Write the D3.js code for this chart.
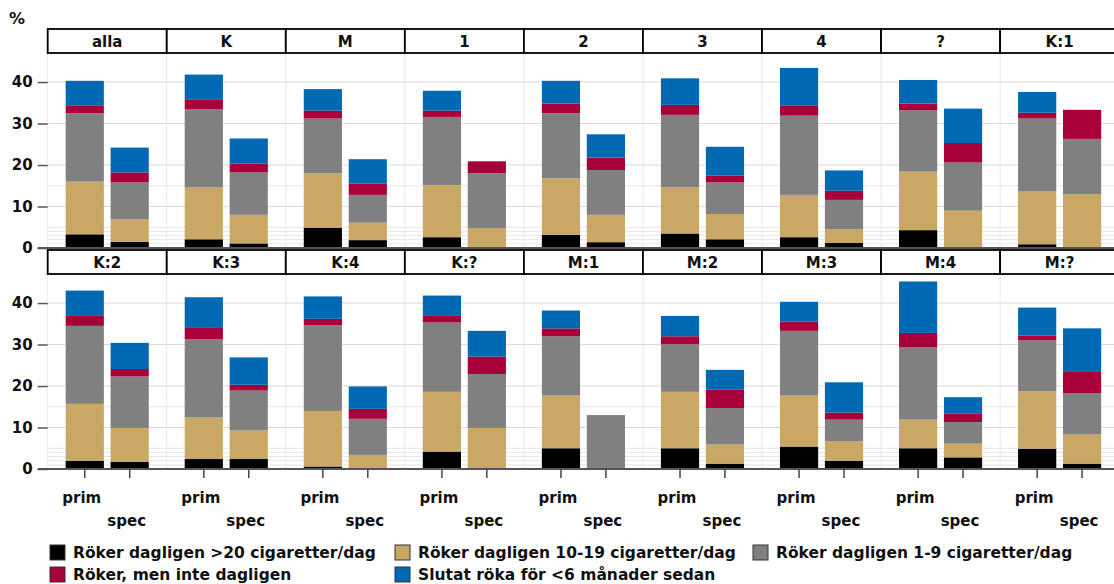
<!DOCTYPE html>
<html>
<head>
<meta charset="utf-8">
<script src="https://cdn.jsdelivr.net/npm/d3@7"></script>
<style>
  body { margin: 0; background: #fff; overflow: hidden; }
  text { font-family: "DejaVu Sans", sans-serif; font-weight: bold; fill: #111; }
</style>
</head>
<body>
<script>
// panels in the order they appear, 9 per row
const panels = ['alla','K','M','1','2','3','4','?','K:1','K:2','K:3','K:4','K:?','M:1','M:2','M:3','M:4','M:?']
const groups = ['prim','spec']
const seriesNames = [
    'Röker dagligen >20 cigaretter/dag',
    'Röker dagligen 10-19 cigaretter/dag',
    'Röker dagligen 1-9 cigaretter/dag',
    'Röker, men inte dagligen',
    'Slutat röka för <6 månader sedan'
]
const yTicks = [0, 10, 20, 30, 40]

// percent values, one number per panel (same order as panels)
const over20Prim   = [3.3, 2.1, 4.9, 2.6, 3.2, 3.5, 2.6, 4.3, 0.9, 2.0, 2.4, 0.6, 4.2, 5.0, 5.0, 5.4, 5.0, 4.9]
const over20Spec   = [1.5, 1.1, 1.9, 0, 1.4, 2.1, 1.2, 0.3, 0, 1.7, 2.4, 0, 0, 0, 1.3, 2.0, 2.8, 1.3]
const mid10Prim    = [12.7, 12.6, 13.1, 12.6, 13.6, 11.2, 10.2, 14.1, 12.7, 13.7, 10.0, 13.4, 14.4, 12.7, 13.6, 12.3, 6.9, 13.8]
const mid10Spec    = [5.5, 6.9, 4.2, 4.8, 6.6, 6.1, 3.3, 8.7, 13.0, 8.2, 6.9, 3.4, 9.9, 0, 4.6, 4.7, 3.3, 7.0]
const low1Prim     = [16.5, 18.8, 13.2, 16.4, 15.7, 17.4, 19.1, 14.8, 17.6, 18.8, 18.9, 20.7, 16.7, 14.3, 11.5, 15.6, 17.4, 12.3]
const low1Spec     = [8.8, 10.2, 6.7, 13.2, 10.8, 7.6, 7.1, 11.6, 13.3, 12.4, 9.6, 8.7, 13.0, 13.0, 8.8, 5.2, 5.2, 10.0]
const notDailyPrim = [1.9, 2.2, 1.9, 1.5, 2.3, 2.4, 2.5, 1.6, 1.4, 2.4, 2.7, 1.5, 1.6, 1.9, 1.9, 2.2, 3.5, 1.2]
const notDailySpec = [2.4, 2.1, 2.7, 2.9, 3.0, 1.7, 2.2, 4.7, 7.0, 1.8, 1.4, 2.4, 4.2, 0, 4.4, 1.7, 2.0, 5.1]
const quitPrim     = [5.9, 6.1, 5.2, 4.8, 5.5, 6.4, 9.0, 5.7, 5.0, 6.1, 7.4, 5.4, 4.9, 4.3, 4.9, 4.8, 12.4, 6.7]
const quitSpec     = [6.0, 6.1, 5.9, 0, 5.6, 6.9, 4.9, 8.3, 0, 6.3, 6.6, 5.4, 6.2, 0, 4.8, 7.3, 4.0, 10.5]

const colors = ['#000000', '#c8a864', '#808080', '#a8003a', '#0069b4']
const keys = ['s0','s1','s2','s3','s4']

// one row per bar, built from the arrays above
const table = []
panels.forEach((p, i) => {
    table.push({panel:p, group:'prim', s0:over20Prim[i], s1:mid10Prim[i], s2:low1Prim[i], s3:notDailyPrim[i], s4:quitPrim[i]})
    table.push({panel:p, group:'spec', s0:over20Spec[i], s1:mid10Spec[i], s2:low1Spec[i], s3:notDailySpec[i], s4:quitSpec[i]})
})

const stacked = d3.stack().keys(keys)(table)

const body = d3.select("body")
const W = 1114, H = 584
const svg = body.append("svg").attr("width", W).attr("height", H)

// layout
const left = 47.7
const panelW = 119.05
const perRow = 9
const rowTop = [29, 250]
const stripH = 24
const plotH = 195

const px = d3.scaleBand().domain(d3.range(perRow)).range([left, left + perRow * panelW])
const bx = d3.scaleBand().domain(groups).range([0, panelW]).paddingInner(0.15).paddingOuter(0.4)

svg.append("text").attr("x", 9).attr("y", 24).style("font-size", "16px").text("%")

rowTop.forEach((top, r) => {
    const y = d3.scaleLinear().domain([0, 47]).range([top + stripH + plotH, top + stripH])
    const g = svg.append("g")

    // faint reference lines
    g.selectAll(".minor").data([1,2,3,4,5,15]).join("line")
        .attr("x1", left).attr("x2", W)
        .attr("y1", d => y(d)).attr("y2", d => y(d))
        .attr("stroke", "#e6e6e6").attr("stroke-width", 1)
    g.selectAll(".major").data([10,20,30,40]).join("line")
        .attr("x1", left).attr("x2", W)
        .attr("y1", d => y(d)).attr("y2", d => y(d))
        .attr("stroke", "#d9d9d9").attr("stroke-width", 1)

    // light separators between panels
    g.selectAll(".sep").data(d3.range(perRow + 1)).join("line")
        .attr("x1", d => left + d * panelW).attr("x2", d => left + d * panelW)
        .attr("y1", top + stripH).attr("y2", y(0))
        .attr("stroke", "#e8e8e8")

    const rowPanels = panels.slice(r * perRow, (r + 1) * perRow)

    // bars
    stacked.forEach((layer, k) => {
        g.append("g").attr("fill", colors[k])
            .selectAll("rect")
            .data(layer.filter(d => rowPanels.includes(d.data.panel)))
            .join("rect")
            .attr("x", d => px(rowPanels.indexOf(d.data.panel)) + bx(d.data.group))
            .attr("width", bx.bandwidth())
            .attr("y", d => y(d[1]))
            .attr("height", d => y(d[0]) - y(d[1]))
    })

    // y axis
    const yAxis = g.append("g").attr("transform", `translate(${left},0)`)
        .call(d3.axisLeft(y).tickValues(yTicks).tickSize(10).tickPadding(5))
    yAxis.select(".domain").remove()
    yAxis.selectAll(".tick line").attr("stroke", "#555").attr("stroke-width", 1.5)
    yAxis.selectAll(".tick text").style("font-size", "15px").attr("fill", "#111")

    // zero line
    g.append("line").attr("x1", left - 10).attr("x2", W)
        .attr("y1", y(0)).attr("y2", y(0))
        .attr("stroke", "#555").attr("stroke-width", 2)

    // strip headers
    const strips = g.selectAll(".strip").data(rowPanels).join("g")
        .attr("transform", (d, i) => `translate(${px(i)},${top})`)
    strips.append("rect").attr("width", panelW).attr("height", stripH)
        .attr("fill", "#fff").attr("stroke", "#000").attr("stroke-width", 1.8)
    strips.append("text").attr("x", panelW / 2).attr("y", 18)
        .attr("text-anchor", "middle").style("font-size", "15px").text(d => d)

    // x ticks and staggered labels only under the bottom row
    if (r == rowTop.length - 1) {
        rowPanels.forEach((p, i) => {
            groups.forEach((grp, j) => {
                const cx = px(i) + bx(grp) + bx.bandwidth() / 2
                g.append("line").attr("x1", cx).attr("x2", cx)
                    .attr("y1", y(0)).attr("y2", y(0) + 9)
                    .attr("stroke", "#444").attr("stroke-width", 1.5)
                g.append("text").attr("x", cx - 3).attr("y", y(0) + 34 + j * 23)
                    .attr("text-anchor", "middle").style("font-size", "15px").text(grp)
            })
        })
    }
})

// legend
const legendPos = [[50, 545], [395, 545], [753, 545], [50, 567], [395, 567]]
const legend = svg.selectAll(".legend").data(seriesNames).join("g")
    .attr("transform", (d, i) => `translate(${legendPos[i][0]},${legendPos[i][1]})`)
legend.append("rect").attr("width", 15).attr("height", 15)
    .attr("fill", (d, i) => colors[i]).attr("stroke", "#333").attr("stroke-width", 1)
legend.append("text").attr("x", 23).attr("y", 13).style("font-size", "15.5px").text(d => d)
</script>
</body>
</html>
